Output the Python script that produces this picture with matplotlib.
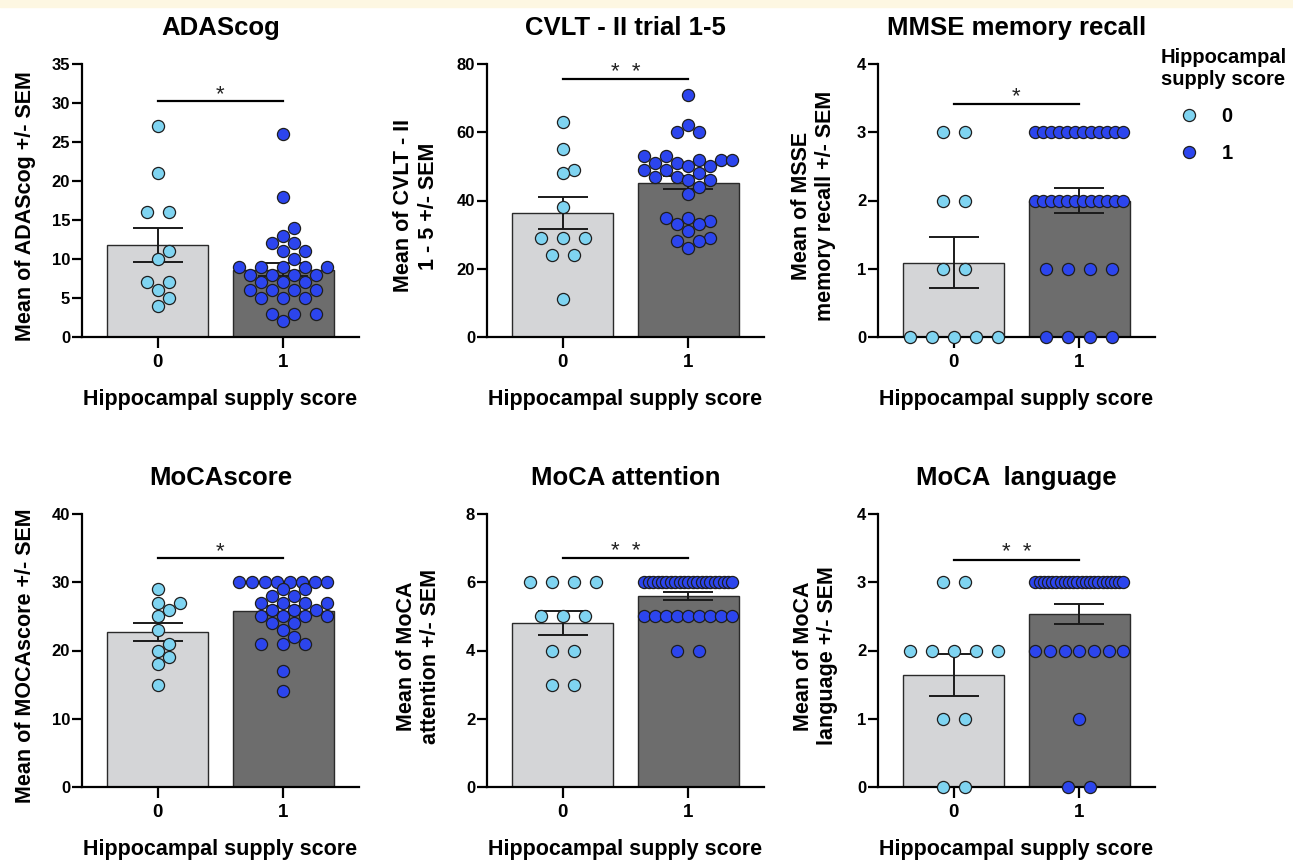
import matplotlib
matplotlib.use("Agg")
import matplotlib.pyplot as plt
import numpy as np
from matplotlib.lines import Line2D
from matplotlib.patches import Rectangle

plt.rcParams["font.family"] = ["Liberation Sans", "DejaVu Sans"]
plt.rcParams["font.weight"] = "bold"

# ---- data ---------------------------------------------------------------
titles = ["ADAScog", "CVLT - II trial 1-5", "MMSE memory recall",
          "MoCAscore", "MoCA attention", "MoCA  language"]
ylabels = ["Mean of ADAScog +/- SEM", "Mean of CVLT - II\n1 - 5 +/- SEM",
           "Mean of MSSE\nmemory recall +/- SEM", "Mean of MOCAscore +/- SEM",
           "Mean of MoCA\nattention +/- SEM", "Mean of MoCA\nlanguage +/- SEM"]
ytops = [35, 80, 4, 40, 8, 4]
ysteps = [5, 20, 1, 10, 2, 1]
categories = ["0", "1"]

adas_0 = [27, 21, 16, 16, 11, 10, 7, 7, 6, 5, 4]
adas_1 = [26, 18, 14, 13, 12, 12, 11, 11, 10, 9, 9, 9, 9, 9, 8, 8, 8, 8,
          7, 7, 7, 6, 6, 6, 6, 5, 5, 5, 3, 3, 3, 2]
cvlt_0 = [63, 55, 49, 48, 38, 29, 29, 29, 24, 24, 11]
cvlt_1 = [71, 62, 60, 60, 53, 53, 52, 52, 52, 51, 51, 50, 50, 49, 49, 48,
          47, 47, 46, 46, 44, 42, 35, 35, 34, 33, 33, 31, 29, 28, 28, 26]
mmse_0 = [3, 3, 2, 2, 1, 1, 0, 0, 0, 0, 0]
mmse_1 = [3, 3, 3, 3, 3, 3, 3, 3, 3, 3, 3, 3, 2, 2, 2, 2, 2, 2, 2, 2, 2, 2,
          2, 2, 1, 1, 1, 1, 0, 0, 0, 0]
moca_0 = [29, 27, 27, 26, 25, 23, 21, 20, 19, 18, 15]
moca_1 = [30, 30, 30, 30, 30, 30, 30, 30, 29, 29, 28, 28, 27, 27, 27, 27,
          26, 26, 26, 25, 25, 25, 25, 24, 24, 23, 22, 21, 21, 21, 17, 14]
att_0 = [6, 6, 6, 6, 5, 5, 5, 4, 4, 3, 3]
att_1 = [6, 6, 6, 6, 6, 6, 6, 6, 6, 6, 6, 6, 6, 6, 6, 6, 6, 6, 6, 6, 6,
         5, 5, 5, 5, 5, 5, 5, 5, 5, 4, 4]
lang_0 = [3, 3, 2, 2, 2, 2, 2, 1, 1, 0, 0]
lang_1 = [3, 3, 3, 3, 3, 3, 3, 3, 3, 3, 3, 3, 3, 3, 3, 3, 3, 3, 3, 3, 3, 3,
          2, 2, 2, 2, 2, 2, 2, 1, 0, 0]

panels = [(adas_0, adas_1), (cvlt_0, cvlt_1), (mmse_0, mmse_1),
          (moca_0, moca_1), (att_0, att_1), (lang_0, lang_1)]
sig_y = [30.2, 75.5, 3.42, 33.5, 6.7, 3.33]
sig_txt = ["*", "*  *", "*", "*", "*  *", "*  *"]

# ---- styling ----------------------------------------------------------------
BAR_COLS = ["#d4d5d7", "#6d6d6d"]
DOT_COLS = ["#7fd4f1", "#2c45ee"]
W, H = 1293, 860
AX_W, AX_H = 277, 273
lefts = [82, 487, 878]
bottoms = [337, 787]
ylab_x = [-0.165, -0.175, -0.15, -0.165, -0.165, -0.145]
XLIM = (-0.6, 1.6)


def swarm(vals, px_per_unit, step=22.0, grid=11.0, diam=11.5, half=44.0):
    """GraphPad-like scatter: rows of equal value, spread on an 11 px grid."""
    vals = np.asarray(vals, float)
    xs = np.zeros(len(vals))
    placed = []

    def free(x, y, others):
        return all(np.hypot(x - px, y - py) >= diam for px, py in others)

    for v in np.unique(vals):
        idx = np.where(vals == v)[0]
        k = len(idx)
        sp = step if k < 2 else min(step, 2 * half / (k - 1))
        base = (np.arange(k) - (k - 1) / 2) * sp
        y = v * px_per_unit
        best = None
        if sp >= diam:
            for shift in (0, grid, -grid, 2 * grid, -2 * grid, 3 * grid, -3 * grid):
                cand = base + shift
                if np.abs(cand).max() > half + 0.1:
                    continue
                if all(free(c, y, placed) for c in cand):
                    best = cand
                    break
            if best is None and k <= 3:
                slots = sorted(np.arange(-half, half + 0.1, grid), key=lambda s: (abs(s), -s))
                row = []
                for _ in range(k):
                    others = placed + [(c, y) for c in row]
                    ok = [s for s in slots if s not in row and free(s, y, others)]
                    if ok:
                        row.append(ok[0])
                    else:
                        row.append(max((s for s in slots if s not in row),
                                       key=lambda s: min(np.hypot(s - px, y - py) for px, py in others)))
                best = np.sort(np.array(row))
        if best is None:
            best = base
        xs[idx] = best
        placed += [(c, y) for c in best]
    return xs


fig = plt.figure(figsize=(W / 100, H / 100), dpi=100)
fig.patches.append(Rectangle((0, 1 - 7 / H), 1, 7 / H, transform=fig.transFigure,
                             color="#fdf7e2", zorder=0))

x_px_per_unit = AX_W / (XLIM[1] - XLIM[0])

for i, (g0, g1) in enumerate(panels):
    r, c = divmod(i, 3)
    ax = fig.add_axes([lefts[c] / W, (H - bottoms[r]) / H, AX_W / W, AX_H / H])
    top = ytops[i]
    y_px_per_unit = AX_H / top

    means = [np.mean(g0), np.mean(g1)]
    sems = [np.std(g0, ddof=1) / np.sqrt(len(g0)), np.std(g1, ddof=1) / np.sqrt(len(g1))]
    xpos = np.arange(2)
    ax.bar(xpos, means, width=0.8, color=BAR_COLS, edgecolor="#2a2a2a", linewidth=1.0, zorder=1)
    ax.errorbar(xpos, means, yerr=sems, fmt="none", ecolor="#1a1a1a", elinewidth=1.4,
                capsize=18, capthick=1.4, zorder=2)

    for j, g in enumerate((g0, g1)):
        off = swarm(g, y_px_per_unit) / x_px_per_unit
        ax.scatter(j + off, g, s=76, color=DOT_COLS[j], edgecolor="#1e1e1e",
                   linewidth=0.9, zorder=4, clip_on=False)

    ax.plot([0, 1], [sig_y[i], sig_y[i]], color="black", lw=1.6, zorder=3)
    ax.annotate(sig_txt[i], (0.5, sig_y[i]), xytext=(0, 1), textcoords="offset points",
                ha="center", va="baseline", fontsize=16, fontweight="normal", color="#222222")

    ax.set_xlim(*XLIM)
    ax.set_ylim(0, top)
    ax.set_xticks(xpos, categories)
    ax.set_yticks(np.arange(0, top + ysteps[i] / 2, ysteps[i]))
    for side in ("top", "right"):
        ax.spines[side].set_visible(False)
    for side in ("left", "bottom"):
        ax.spines[side].set_linewidth(1.6)
    ax.tick_params(axis="x", length=8, width=1.6, pad=4, labelsize=13.5)
    ax.tick_params(axis="y", length=7, width=1.6, pad=1.5, labelsize=12)
    ax.set_title(titles[i], fontsize=18.5, fontweight="bold", pad=21)
    ax.set_xlabel("Hippocampal supply score", fontsize=15.5, fontweight="bold", labelpad=13)
    ax.set_ylabel(ylabels[i], fontsize=15.5, fontweight="bold")
    ax.yaxis.set_label_coords(ylab_x[i], 0.48)

handles = [Line2D([], [], marker="o", ls="", ms=8.7, mfc=DOT_COLS[j], mec="#1e1e1e", mew=0.9)
           for j in range(2)]
fig.legend(handles, categories, title="Hippocampal\nsupply score", loc="upper left",
           bbox_to_anchor=(1143 / W, 1 - 30 / H), frameon=False, labelspacing=0.9,
           handlelength=2.8, handletextpad=0.2, alignment="left",
           prop={"size": 14.5, "weight": "bold"},
           title_fontproperties={"size": 14.5, "weight": "bold"})

fig.savefig("out.png", dpi=100)
